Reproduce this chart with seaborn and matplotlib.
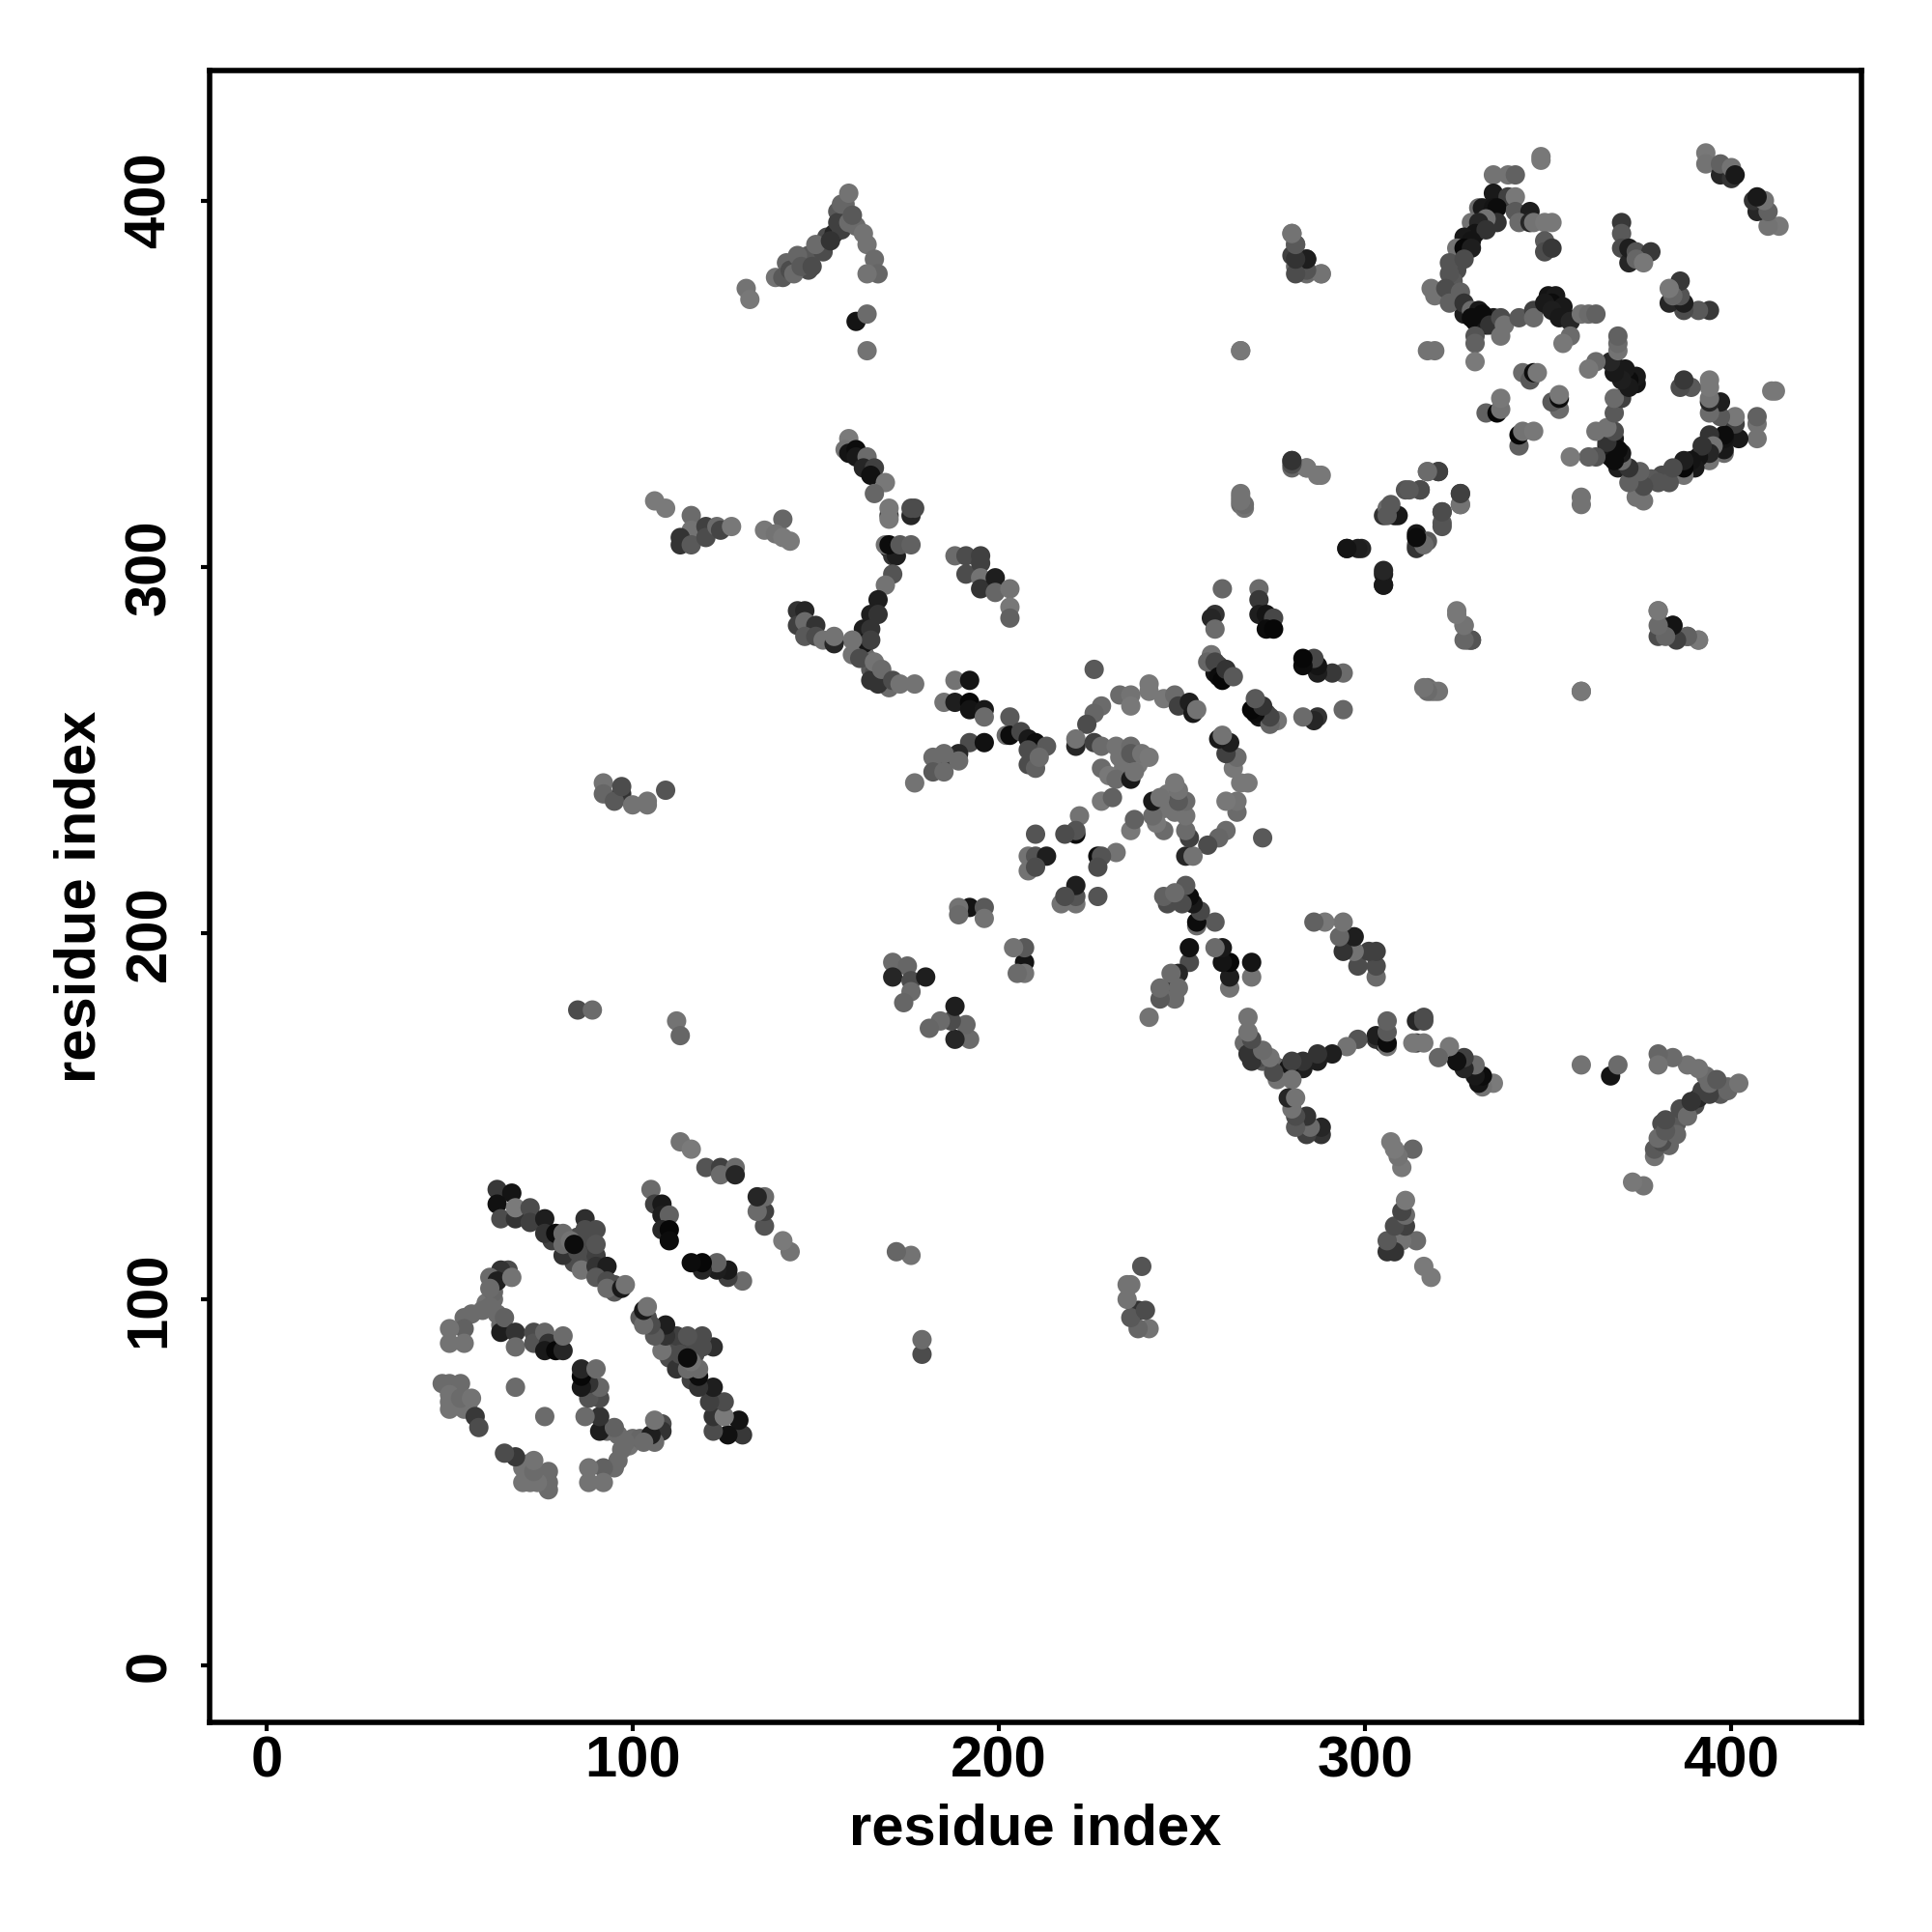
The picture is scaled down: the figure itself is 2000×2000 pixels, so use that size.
import pandas as pd
import matplotlib
matplotlib.use("Agg")
import matplotlib.pyplot as plt
import seaborn as sns

# contacts as (residue i, residue j, grey level), the map is symmetric so only i < j is listed
domain_a = [
    (50,72,.45),(52,74,.42),(52,71,.45),(50,76,.42),(55,71,.42),(62,100,.42),(60,99,.45),(62,102,.4),(63,96,.42),
    (66,108,.3),(84,112,.3),(85,117,.3),(88,115,.3),(84,110,.3),(88,112,.25),(86,111,.3),(90,112,.25),(91,107,.25),
    (95,104,.3),(95,102,.35),(78,116,.25),(72,123,.25),(69,124,.25),
    (113,143,.45),(116,141,.48),(120,136,.33),(124,136,.25),(124,134,.42),(128,136,.42),(128,134,.15),
    (105,130,.42),(106,126,.25),(108,126,.1),(108,123,.12),(110,123,.38),(108,119,.15),(110,119,.03),(110,116,.05),
    (63,130,.22),(67,129,.08),(63,126,.07),(64,122,.3),(68,122,.2),(68,125,.48),(72,125,.3),(72,121,.25),
    (76,122,.12),(76,118,.2),(79,118,.05),(81,118,.42),(81,112,.2),(87,122,.18),(87,119,.3),(90,119,.3),
    (90,115,.33),(81,115,.42),(83,116,.45),(85,113,.3),(84,115,.05),(86,108,.45),(90,109,.2),(93,109,.12),
    (90,106,.35),(93,105,.3),(93,103,.42),(97,103,.1),(98,104,.45),
    (64,108,.2),(61,106,.42),(63,105,.12),(67,106,.45),(61,103,.42),(61,98,.42),(59,97,.42),(56,96,.42),
    (54,95,.42),(54,92,.38),(50,92,.45),(50,88,.45),(54,88,.45),(64,93,.42),(64,91,.12),(65,95,.38),
    (68,91,.2),(68,87,.42),(73,91,.3),(73,88,.33),(76,91,.4),(77,88,.2),(76,86,.1),(79,86,.03),(81,86,.15),(81,90,.42),
    (48,77,.42),(50,77,.42),(53,77,.42),(50,74,.45),(50,70,.45),(54,70,.45),(53,73,.42),(56,73,.45),(57,68,.22),
    (58,65,.3),(68,76,.42),
]
domain_b = [
    (162,278,.35),(163,277,.3),(164,275,.42),(165,272,.35),(166,271,.3),(168,270,.42),(169,268,.25),(170,267,.42),
    (170,305,.12),(171,303,.2),(147,283,.4),(148,282,.3),
    (106,318,.48),(109,316,.48),(116,314,.42),(116,310,.45),(113,308,.2),(113,306,.2),(116,306,.35),(120,311,.25),
    (120,308,.3),(123,311,.42),(124,310,.27),(127,311,.47),(136,310,.47),(141,313,.4),(139,309,.45),(141,308,.48),(143,307,.48),
    (159,335,.48),(158,332,.45),(159,331,.08),(161,332,.05),(161,330,.1),(164,330,.42),(163,327,.15),(166,327,.25),
    (165,325,.07),(169,323,.47),(166,320,.4),(170,314,.25),(170,316,.47),(170,313,.47),(176,314,.15),(176,316,.3),(177,316,.3),
    (169,306,.45),(172,303,.12),(170,306,.05),(173,306,.35),(176,306,.38),(171,298,.33),(169,295,.45),(167,291,.12),
    (165,287,.12),(167,287,.2),(163,283,.12),(165,283,.2),(163,279,.08),(165,280,.25),(160,280,.45),(160,276,.45),
    (162,275,.3),(165,269,.2),(167,268,.2),(166,274,.45),(168,272,.42),(171,269,.3),(173,268,.45),(177,268,.45),
    (145,288,.2),(147,288,.15),(145,284,.25),(147,285,.42),(150,284,.2),(147,281,.35),(150,281,.3),(152,280,.45),
    (155,279,.15),(155,281,.45),
    (188,303,.42),(191,303,.3),(195,303,.25),(191,298,.3),(195,301,.25),(195,297,.45),(195,294,.2),(199,297,.12),
    (199,293,.4),(203,294,.45),(203,289,.47),(203,286,.38),
    (188,269,.45),(192,269,.08),(185,263,.45),(188,263,.12),(192,263,.03),(192,261,.08),(196,261,.1),(196,259,.42),
    (203,259,.35),(202,254,.42),(203,254,.05),(206,255,.28),(208,253,.1),(210,252,.05),(208,250,.3),(213,251,.35),
    (208,246,.3),(210,245,.38),(211,248,.42),(192,252,.3),(196,252,.07),(189,249,.15),(186,248,.2),(182,248,.42),
    (185,249,.42),(182,244,.35),(185,244,.42),(189,247,.42),(177,241,.45),
    (85,179,.3),(89,179,.42),(112,176,.45),(113,172,.4),
    (92,241,.45),(92,238,.4),(97,238,.2),(95,236,.35),(100,235,.45),(104,235,.45),(104,236,.45),(97,240,.3),(109,239,.33),
]
domain_c = [
    (234,245,.45),(233,248,.45),(238,246,.47),
    (226,272,.35),(233,265,.42),(236,265,.45),(236,262,.47),(241,268,.47),(241,266,.47),(245,264,.47),(248,265,.42),
    (249,262,.25),(252,263,.12),(253,260,.1),(254,261,.45),(228,262,.42),(226,260,.4),(224,257,.3),(221,251,.15),(221,253,.45),
    (226,252,.25),(228,251,.42),(232,251,.45),(236,251,.42),(236,249,.35),(239,249,.45),(241,248,.47),(228,245,.42),
    (230,243,.47),(232,242,.42),(236,242,.1),(237,244,.45),(228,236,.47),(231,237,.38),
    (222,232,.45),(221,227,.05),(221,228,.33),(218,227,.3),(210,227,.33),(208,221,.45),(210,221,.33),(213,221,.12),
    (208,217,.45),(210,218,.3),
    (261,294,.4),(271,294,.42),(271,291,.22),(271,287,.12),(273,287,.08),(275,286,.28),(273,283,.05),(275,283,.03),
    (259,287,.2),(258,286,.15),(259,283,.42),(259,271,.08),(260,273,.25),(261,271,.1),(262,270,.12),
    (258,276,.45),(257,274,.4),(259,274,.27),(260,270,.05),(261,269,.03),(262,272,.2),(264,270,.35),
    (192,207,.08),(196,207,.35),(196,204,.45),(189,207,.45),(189,205,.42),
    (171,192,.42),(175,191,.4),(171,188,.15),(176,187,.3),(180,188,.12),(176,184,.42),(174,181,.4),
    (131,376,.45),(132,373,.47),(146,384,.42),(148,385,.35),(152,386,.3),(153,390,.3),(155,391,.15),(157,392,.25),
    (158,396,.3),(156,397,.35),(158,399,.4),(161,393,.42),(148,381,.3),(142,383,.4),(139,379,.45),
    (141,379,.35),(143,381,.3),(145,385,.4),(144,380,.42),(146,382,.35),(149,382,.3),
    (150,388,.42),(154,389,.2),(156,394,.25),(159,394,.42),(157,399,.4),(159,402,.45),(160,396,.35),(163,391,.45),
    (164,388,.45),(166,384,.42),(167,380,.4),(164,380,.45),(161,367,.08),(164,369,.42),(164,359,.45),
]
domain_d = [
    (348,412,.47),(348,411,.47),(335,407,.45),(339,407,.45),(341,407,.38),(331,398,.42),(332,398,.1),(335,402,.1),(335,398,.08),
    (339,401,.25),(341,401,.47),(336,398,.05),(336,394,.2),(329,394,.45),(333,395,.45),(331,394,.15),(330,391,.08),
    (333,392,.2),(327,390,.1),(329,389,.08),(325,381,.3),(324,378,.35),(330,367,.05),(327,369,.12),(333,366,.1),(335,368,.1),
    (341,397,.35),(345,397,.12),(342,394,.42),(345,394,.15),(346,394,.45),(349,394,.47),(351,394,.47),(349,389,.35),
    (349,386,.3),(351,387,.22),(325,387,.45),(327,387,.03),(329,387,.12),(323,383,.33),(327,384,.3),(323,380,.33),
    (318,376,.45),(319,374,.45),(322,376,.3),(326,375,.38),(323,372,.38),(327,372,.2),(329,370,.42),(331,370,.1),
    (329,368,.05),(332,369,.05),(334,366,.2),(337,368,.3),(338,366,.45),(337,363,.45),(330,363,.33),(330,361,.38),
    (330,356,.48),(317,359,.45),(319,359,.45),(342,368,.35),(346,370,.25),(346,368,.42),(350,374,.08),(352,374,.1),
    (352,371,.15),(351,372,.05),(354,369,.08),(355,368,.12),(349,372,.1),
    (354,371,.1),(351,370,.12),(353,368,.1),(356,367,.15),(359,369,.45),(361,369,.42),(363,369,.38),(356,363,.42),(354,361,.47),
    (343,353,.42),(345,351,.35),(346,353,.05),(347,353,.47),(333,342,.38),(336,342,.02),(337,343,.45),(337,346,.47),
    (393,413,.47),(393,410,.45),(397,407,.15),(397,410,.38),(400,406,.2),(400,409,.45),(401,407,.1),
    (370,394,.22),(370,391,.35),(370,387,.3),(372,383,.15),(372,387,.12),(374,386,.33),(378,386,.22),(374,384,.4),(376,383,.47),
    (317,326,.45),(320,326,.25),(311,321,.33),(315,321,.3),(326,320,.25),(326,317,.42),(321,315,.3),(321,312,.35),
    (305,314,.2),(306,316,.42),(308,314,.05),(314,309,.1),(314,306,.35),(317,307,.35),(305,298,.12),(305,295,.08),
    (295,305,.1),(299,305,.15),(325,288,.47),(327,284,.47),(328,280,.3),(329,280,.2),
    (317,267,.42),(319,266,.45),(318,266,.45),(359,266,.47),
    (380,288,.45),(381,284,.33),(384,284,.12),(380,281,.3),(384,281,.2),(388,281,.35),(391,280,.45),
    (266,359,.47),(280,329,.33),(280,327,.4),(284,327,.45),(287,325,.47),(266,320,.45),(266,317,.42),(267,316,.45),
    (280,391,.47),(281,388,.38),(280,385,.25),(284,384,.08),(281,382,.4),(284,380,.42),(288,380,.47),
]

tick_values = [0, 100, 200, 300, 400]
axis_label = "residue index"

half = pd.DataFrame(domain_a + domain_b + domain_c + domain_d, columns=["i", "j", "grey"])
mirror = half.rename(columns={"i": "j", "j": "i"})
contacts = pd.concat([half, mirror], ignore_index=True)

sns.set_theme(style="white")
plt.rcParams["font.family"] = ["Liberation Sans", "DejaVu Sans"]

fig = plt.figure(figsize=(10, 10), dpi=200)
ax = fig.add_axes([217 / 2000, 217 / 2000, 1710 / 2000, 1710 / 2000])

sns.scatterplot(data=contacts, x="i", y="j", c=contacts["grey"], cmap="gray", vmin=0, vmax=1,
                s=52, linewidth=0, ax=ax)

ax.set_xlim(-15.5, 435.5)
ax.set_ylim(-15.5, 435.5)
ax.set_xticks(tick_values)
ax.set_yticks(tick_values)
ax.tick_params(axis="both", length=3.2, width=1.5, color="black", labelsize=21.5, labelcolor="black", bottom=True, left=True)
ax.tick_params(axis="x", pad=1.5)
ax.tick_params(axis="y", pad=9)
for lab in ax.get_xticklabels():
    lab.set_fontweight("bold")
for lab in ax.get_yticklabels():
    lab.set_fontweight("bold")
    lab.set_rotation(90)
    lab.set_va("center")
ax.set_xlabel(axis_label, fontsize=21.5, fontweight="bold", color="black", labelpad=5.5)
ax.set_ylabel(axis_label, fontsize=21.5, fontweight="bold", color="black", labelpad=6.5)
for spine in ax.spines.values():
    spine.set_color("black")
    spine.set_linewidth(2)

fig.savefig("out.png", dpi=200, facecolor="white")
